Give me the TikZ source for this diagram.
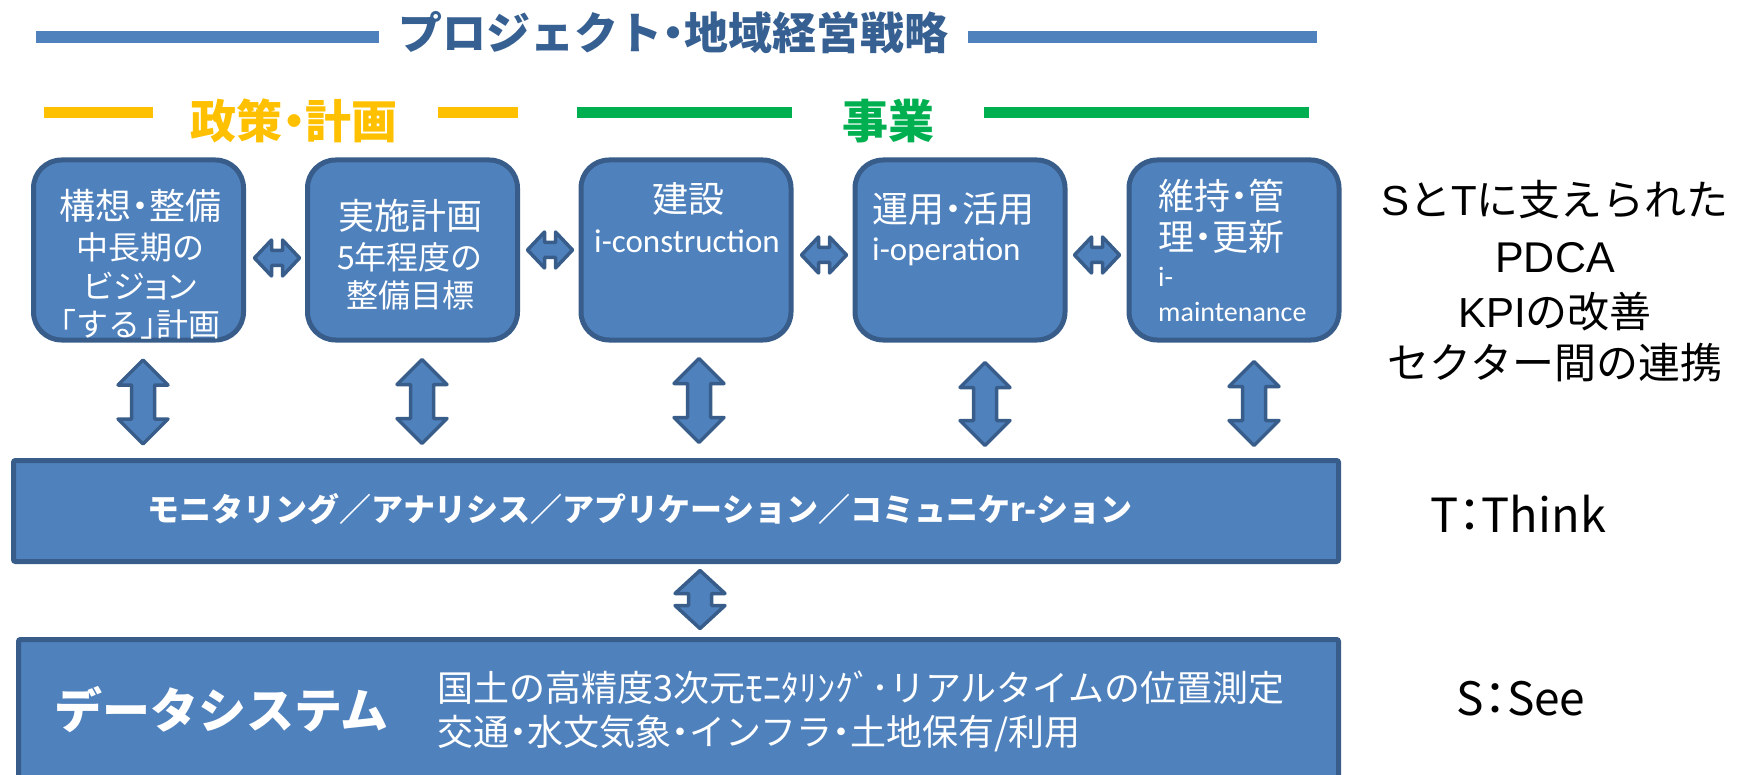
\documentclass[tikz,border=0pt]{standalone}
\usepackage{fontspec}
\usetikzlibrary{calc}
\newfontfamily\jp{Noto Sans CJK JP}
\newfontfamily\jpp[RawFeature=+palt]{Noto Sans CJK JP}
\newfontfamily\lat{Carlito}
\newfontfamily\lib{Liberation Sans}
\definecolor{boxblue}{HTML}{4F81BD}
\definecolor{bdr}{HTML}{385D8A}
\definecolor{ttl}{HTML}{376092}
\definecolor{lineblue}{HTML}{4F81BD}
\definecolor{ylw}{HTML}{FFC000}
\definecolor{grn}{HTML}{00B050}
\newcommand\nd{\makebox[0.5em]{・}}
\newcommand\lbr{\makebox[0.5em][r]{「}}
\newcommand\rbr{\makebox[0.5em][l]{」}}
\newcommand\vfatarrow[3]{\draw[fat] (#1) -- ($(#1)+(25,#3)$) -- ($(#1)+(11.5,#3)$) -- ($(#2)+(11.5,-#3)$) -- ($(#2)+(25,-#3)$) -- (#2) -- ($(#2)+(-25,-#3)$) -- ($(#2)+(-11.5,-#3)$) -- ($(#1)+(-11.5,#3)$) -- ($(#1)+(-25,#3)$) -- cycle;}
\newcommand\hfatarrow[2]{\draw[fat] (#1) -- ($(#1)+(17,-18)$) -- ($(#1)+(17,-7.5)$) -- ($(#2)+(-17,-7.5)$) -- ($(#2)+(-17,-18)$) -- (#2) -- ($(#2)+(-17,18)$) -- ($(#2)+(-17,7.5)$) -- ($(#1)+(17,7.5)$) -- ($(#1)+(17,18)$) -- cycle;}
\begin{document}
\begin{tikzpicture}[x=1pt,y=-1pt,
  pbox/.style={draw=bdr, fill=boxblue, line width=5pt, rounded corners=28pt, minimum width=210pt, minimum height=180pt, inner sep=0pt},
  bar/.style={draw=bdr, fill=boxblue, line width=5pt, rounded corners=2pt, inner sep=0pt},
  fat/.style={draw=bdr, fill=boxblue, line width=3.5pt, line join=round},
  wt/.style={text=white, inner sep=0pt, font=\jp\fontsize{36}{40}\selectfont},
  wm/.style={text=white, inner sep=0pt, font=\jp\fontsize{32}{38}\selectfont},
  wl/.style={text=white, inner sep=0pt, font=\lat\fontsize{33}{38}\selectfont},
  ws/.style={text=white, inner sep=0pt, font=\lat\fontsize{28}{32}\selectfont},
  bk/.style={text=black, inner sep=0pt, font=\jp\fontsize{42}{50}\selectfont},
  hdr/.style={inner sep=0pt, anchor=base, font=\jp\bfseries\fontsize{46}{50}\selectfont}]
\useasboundingbox (0,0) rectangle (1752,775);
\clip (0,0) rectangle (1752,775);

% header
\node[hdr, text=ttl, font=\jp\bfseries\fontsize{44}{50}\selectfont] (title) at (673,50) {プロジェクト\nd 地域経営戦略};
\draw[lineblue, line width=12pt] (36,37) -- (379,37);
\draw[lineblue, line width=12pt] (968,37) -- (1317,37);
\node[hdr, text=ylw] (seisaku) at (294,139) {政策\nd 計画};
\node[hdr, text=grn] (jigyo) at (888,139) {事業};
\draw[ylw, line width=11pt] (44,112.5) -- (153,112.5);
\draw[ylw, line width=11pt] (438,112.5) -- (518,112.5);
\draw[grn, line width=11pt] (577,112.5) -- (792,112.5);
\draw[grn, line width=11pt] (984,112.5) -- (1309,112.5);

% boxes
\node[pbox] (b1) at (138.5,250) {};
\node[pbox] (b2) at (412.5,250) {};
\node[pbox] (b3) at (686,250) {};
\node[pbox] (b4) at (960,250) {};
\node[pbox] (b5) at (1234,250) {};
\node[bar, minimum width=1325pt, minimum height=101pt] (mon) at (676,511) {};
\node[bar, minimum width=1320pt, minimum height=150pt] (data) at (678.5,714.5) {};

% box texts
\node[wt, anchor=base] (t1a) at (140,220) {構想\nd 整備};
\node[wm, anchor=base] (t1b) at (140,260) {中長期の};
\node[wm, anchor=base, font=\jpp\fontsize{32}{38}\selectfont] (t1c) at (140,299) {ビジョン};
\node[wm, anchor=base] (t1d) at (140,337) {\lbr する\rbr 計画};
\node[wt, anchor=base] (t2a) at (410,230) {実施計画};
\node[wm, anchor=base] (t2b) at (410,270) {5年程度の};
\node[wm, anchor=base] (t2c) at (410,308) {整備目標};
\node[wt, anchor=base] (t3a) at (688,213) {建設};
\node[wl, anchor=base] (t3b) at (687,253) {i-construction};
\node[wt, anchor=base west] (t4a) at (872,223) {運用\nd 活用};
\node[wl, anchor=base west] (t4b) at (872,261) {i-operation};
\node[wt, anchor=base west] (t5a) at (1158,210) {維持\nd 管};
\node[wt, anchor=base west] (t5b) at (1158,251) {理\nd 更新};
\node[ws, anchor=base west] (t5c) at (1158,287) {i-};
\node[ws, anchor=base west] (t5d) at (1158,322) {maintenance};

\node[text=white, inner sep=0pt, anchor=base, font=\jp\bfseries\fontsize{32}{36}\selectfont] (montext) at (640,521) {モニタリング／アナリシス／アプリケーション／コミュニケr-ション};
\node[text=white, inner sep=0pt, anchor=base west, font=\jp\bfseries\fontsize{48}{54}\selectfont] (dtitle) at (54,728) {データシステム};
\node[text=white, inner sep=0pt, anchor=base west, font=\jp\fontsize{36}{40}\selectfont] (dl1) at (437,701) {国土の高精度3次元ﾓﾆﾀﾘﾝｸﾞ･リアルタイムの位置測定};
\node[text=white, inner sep=0pt, anchor=base west, font=\jp\fontsize{36}{40}\selectfont] (dl2) at (437,745) {交通\nd 水文気象\nd インフラ\nd 土地保有/利用};

% right side texts
\node[bk, anchor=base] (r1) at (1555,216) {{\lib S}と{\lib T}に支えられた};
\node[bk, anchor=base, font=\lib\fontsize{43}{50}\selectfont] (r2) at (1555,273) {PDCA};
\node[bk, anchor=base] (r3) at (1555,327) {{\lib KPI}の改善};
\node[bk, anchor=base] (r4) at (1555,378) {セクター間の連携};
\node[bk, anchor=base, font=\jpp\fontsize{47}{50}\selectfont] (think) at (1518,532) {T：Think};
\node[bk, anchor=base, font=\jpp\fontsize{46}{50}\selectfont] (see) at (1521,715) {S：See};

% horizontal double arrows
\coordinate (h1a) at ($(b1.east)+(8.5,8)$);
\coordinate (h1b) at ($(b2.west)+(-5.5,8)$);
\coordinate (h2a) at ($(b2.east)+(7.5,0)$);
\coordinate (h2b) at ($(b3.west)+(-6,0)$);
\coordinate (h3a) at ($(b3.east)+(8,5)$);
\coordinate (h3b) at ($(b4.west)+(-6,5)$);
\coordinate (h4a) at ($(b4.east)+(7,5)$);
\coordinate (h4b) at ($(b5.west)+(-7,5)$);
\hfatarrow{h1a}{h1b}
\hfatarrow{h2a}{h2b}
\hfatarrow{h3a}{h3b}
\hfatarrow{h4a}{h4b}

% vertical double arrows
\coordinate (v1t) at ($(b1.south)+(4.5,17.5)$);
\coordinate (v1b) at ($(b1.south |- mon.north)+(4.5,-14)$);
\coordinate (v2t) at ($(b2.south)+(9.5,17)$);
\coordinate (v2b) at ($(b2.south |- mon.north)+(9.5,-14.5)$);
\coordinate (v3t) at ($(b3.south)+(13,16)$);
\coordinate (v3b) at ($(b3.south |- mon.north)+(13,-15.5)$);
\coordinate (v4t) at ($(b4.south)+(25,20)$);
\coordinate (v4b) at ($(b4.south |- mon.north)+(25,-12.5)$);
\coordinate (v5t) at ($(b5.south)+(20,19)$);
\coordinate (v5b) at ($(b5.south |- mon.north)+(20,-12.5)$);
\coordinate (v6t) at ($(mon.south)+(24,6.5)$);
\coordinate (v6b) at ($(mon.south |- data.north)+(24,-8.5)$);
\vfatarrow{v1t}{v1b}{25}
\vfatarrow{v2t}{v2b}{25}
\vfatarrow{v3t}{v3b}{25}
\vfatarrow{v4t}{v4b}{25}
\vfatarrow{v5t}{v5b}{25}
\vfatarrow{v6t}{v6b}{23}
\end{tikzpicture}
\end{document}
